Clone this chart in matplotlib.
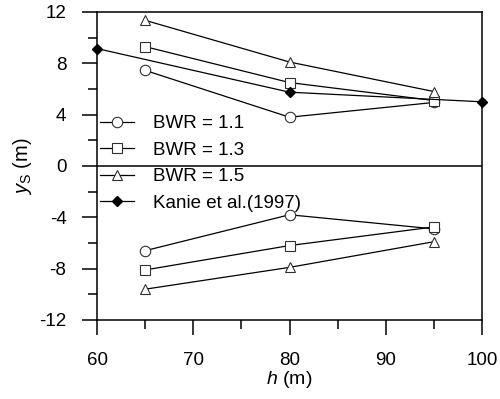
import matplotlib as mp
mp.use("Agg")
import matplotlib.pyplot as plot
from matplotlib.ticker import MultipleLocator

# data
h_bwr = [65, 80, 95]
bwr11_up = [7.45, 3.8, 4.95]
bwr13_up = [9.3, 6.5, 5.1]
bwr15_up = [11.35, 8.1, 5.8]
bwr11_dn = [-6.6, -3.8, -4.9]
bwr13_dn = [-8.1, -6.2, -4.75]
bwr15_dn = [-9.6, -7.9, -5.9]
h_kanie = [60, 80, 100]
kanie = [9.15, 5.75, 5.0]

labels = ["BWR = 1.1", "BWR = 1.3", "BWR = 1.5", "Kanie et al.(1997)"]

lw_axis = 1.1
lw_line = 0.9
fontsize = 13.5

mp.rcParams.update({
  "font.family": ["Liberation Sans", "DejaVu Sans"],
  "mathtext.fontset": "custom",
  "mathtext.rm": "Liberation Sans",
  "mathtext.it": "Liberation Sans:italic",
  "font.size": fontsize,
  "axes.unicode_minus": False,
})

fig = plot.figure(figsize=(5.0, 3.99), dpi=100)
ax = fig.add_axes([0.194, 0.198, 0.77, 0.772])

for s in ax.spines.values():
  s.set_linewidth(lw_axis)

ax.axhline(0, color="black", linewidth=lw_axis, zorder=1)

mk = dict(color="black", linewidth=lw_line, markersize=7.5,
          markerfacecolor="white", markeredgecolor="#303030", markeredgewidth=0.8)

l1, = ax.plot(h_bwr, bwr11_up, marker="o", **mk)
l2, = ax.plot(h_bwr, bwr13_up, marker="s", **{**mk, "markersize": 6.5})
l3, = ax.plot(h_bwr, bwr15_up, marker="^", **mk)
ax.plot(h_bwr, bwr11_dn, marker="o", **mk)
ax.plot(h_bwr, bwr13_dn, marker="s", **{**mk, "markersize": 6.5})
ax.plot(h_bwr, bwr15_dn, marker="^", **mk)
l4, = ax.plot(h_kanie, kanie, marker="D", color="black", linewidth=lw_line,
              markersize=5.5, markerfacecolor="black", markeredgecolor="black",
              clip_on=False, zorder=5)

ax.set_xlim(60, 100)
ax.set_ylim(-12, 12)
ax.xaxis.set_major_locator(MultipleLocator(10))
ax.xaxis.set_minor_locator(MultipleLocator(5))
ax.yaxis.set_major_locator(MultipleLocator(4))
ax.yaxis.set_minor_locator(MultipleLocator(2))
ax.tick_params(which="major", direction="out", length=11, width=lw_axis,
               labelsize=fontsize)
ax.tick_params(axis="x", which="major", pad=12)
ax.tick_params(axis="y", which="major", pad=11)
ax.tick_params(which="minor", direction="out", length=6.5, width=lw_axis)
ax.tick_params(axis="y", which="both", right=False)
ax.tick_params(axis="x", which="both", top=False)

ax.set_xlabel(r"$\mathit{h}$ (m)", fontsize=fontsize + 0.5, labelpad=0)
ax.set_ylabel(r"$\mathit{y}_{\mathrm{S}}$ (m)", fontsize=fontsize + 1, labelpad=4)

ax.legend([l1, l2, l3, l4], labels, loc="upper left",
          bbox_to_anchor=(0.008, 0.665), frameon=False, fontsize=fontsize,
          handlelength=1.8, handletextpad=1.0, labelspacing=0.5,
          borderaxespad=0, borderpad=0)

plot.savefig("out.png", dpi=100)
